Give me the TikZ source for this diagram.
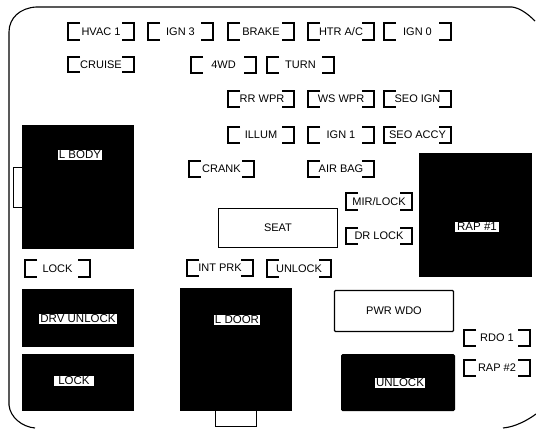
\documentclass[tikz,border=0pt]{standalone}
\usepackage{fontspec}
\setmainfont{Liberation Sans}
\usetikzlibrary{calc}
\tikzset{
  x=1pt,y=-1pt,
  fusetext/.style={font=\fontsize{11}{12}\selectfont,inner sep=0pt,text=black},
  whitebox/.style={draw=black,line width=1.1pt,fill=white,inner sep=0pt,font=\fontsize{11}{12}\selectfont},
  revlabel/.style={font=\fontsize{11.5}{12}\selectfont,fill=white,text=black,inner sep=1pt},
  bracket/.style={draw=black,line width=1.1pt}
}
\newcommand{\fuse}[7][0]{% shift, name, x1, y1, x2, y2, text
  \coordinate (#2-a) at (#3,#4);
  \coordinate (#2-b) at (#5,#6);
  \draw[bracket] ($(#2-a)+(12,0)$) -- (#2-a) -- (#2-a |- #2-b) -- ($(#2-a |- #2-b)+(12,0)$);
  \draw[bracket] ($(#2-b |- #2-a)+(-12,0)$) -- (#2-b |- #2-a) -- (#2-b) -- ($(#2-b)+(-12,0)$);
  \node[fusetext] (#2) at ($($(#2-a)!.5!(#2-b)$)+(#1,0)$) {#7};
}
\begin{document}
\begin{tikzpicture}
\useasboundingbox (0,0) rectangle (536,429);
\fill[white] (0,0) rectangle (536,429);
% enclosure
\draw[line width=1.1pt] (9,405) -- (9,32) .. controls (9,18) and (20,8) .. (36,7) -- (512,7) .. controls (520,8) and (528,14) .. (535,21);
\draw[line width=1.1pt] (9,405) .. controls (10,417) and (22,427) .. (35,428);
\draw[line width=1.1pt] (503,428) .. controls (515,427) and (528,420) .. (536,414);
% tabs
\draw[line width=1pt] (22,167) -- (13,167) -- (13,207) -- (22,207);
\draw[line width=1pt] (215,411) -- (215,426) -- (256,426) -- (256,411);
% black relays
\fill[black] (22,125) rectangle (134,249);
\fill[black] (22,289) rectangle (134,347);
\fill[black] (22,354) rectangle (134,411);
\fill[black] (180,288) rectangle (292,411);
\fill[black] (419,153) rectangle (532,277);
\fill[black,rounded corners=1.5pt] (341,354) rectangle (455,411);
\node[revlabel] (lbody) at (80,155) {L BODY};
\node[revlabel] (drv) at (78,319) {DRV UNLOCK};
\node[revlabel,inner xsep=4pt] (lock2) at (74,381) {LOCK};
\node[revlabel] (ldoor) at (237,320) {L DOOR};
\node[revlabel,inner xsep=2pt] (rap1) at (477,227) {RAP \#1};
\node[revlabel] (unlock2) at (400,383) {UNLOCK};
% white relays
\node[whitebox,minimum width=119pt,minimum height=39pt] (seat) at (278,228) {SEAT};
\node[whitebox,rounded corners=1pt,minimum width=119pt,minimum height=41pt] (pwr) at (394,311) {PWR WDO};
% fuses
\fuse[0]{hvac}{68}{23}{134}{40}{HVAC 1}
\fuse[0]{ign3}{148}{23}{213}{40}{IGN 3}
\fuse[0]{brake}{228}{23}{294}{40}{BRAKE}
\fuse[0]{htr}{308}{23}{374}{40}{HTR A/C}
\fuse[0]{ign0}{384}{23}{451}{40}{IGN 0}
\fuse[0]{cruise}{68}{57}{134}{72}{CRUISE}
\fuse[0]{fwd}{191}{57}{256}{73}{4WD}
\fuse[0]{turn}{267}{57}{334}{73}{TURN}
\fuse[1]{rr}{228}{91}{294}{107}{RR WPR}
\fuse[0]{ws}{308}{91}{374}{107}{WS WPR}
\fuse[0]{seoign}{384}{91}{451}{107}{SEO IGN}
\fuse[0]{illum}{228}{127}{294}{143}{ILLUM}
\fuse[0]{ign1}{308}{127}{374}{143}{IGN 1}
\fuse[0]{seoacc}{384}{127}{451}{143}{SEO ACCY}
\fuse[0]{crank}{189}{161}{254}{177}{CRANK}
\fuse[0]{airbag}{308}{161}{374}{177}{AIR BAG}
\fuse[0]{mir}{346}{193}{412}{210}{MIR/LOCK}
\fuse[0]{dr}{346}{228}{412}{244}{DR LOCK}
\fuse[0]{lock}{25}{260}{90}{277}{LOCK}
\fuse[0]{intprk}{187}{260}{253}{276}{INT PRK}
\fuse[0]{unlock}{267}{260}{331}{277}{UNLOCK}
\fuse[0]{rdo}{464}{330}{530}{346}{RDO 1}
\fuse[0]{rap2}{464}{360}{530}{376}{RAP \#2}
\end{tikzpicture}
\end{document}
